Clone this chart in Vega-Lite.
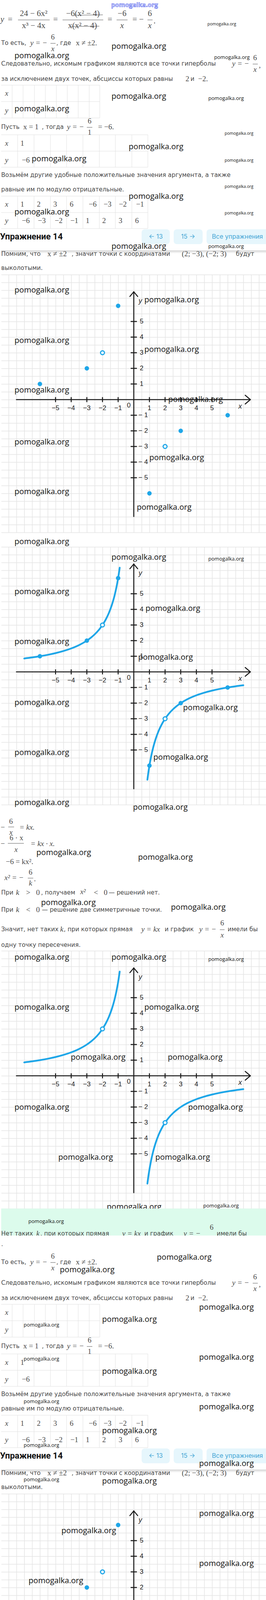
{
"$schema":"https://vega.github.io/schema/vega-lite/v6.json",
"padding":0,
"background":"white",
"spacing":0,
"bounds":"flush",
"config":{"view":{"stroke":null},"axis":{"minExtent":0}},
"datasets":{
"axesSeg":[{"x":-7.5,"y":0,"x2":7.45,"y2":0},{"x":0,"y":-7.48,"x2":0,"y2":6.9},{"x":7.12,"y":0.28,"x2":7.45,"y2":0},{"x":7.12,"y":-0.28,"x2":7.45,"y2":0},{"x":-0.25,"y":6.6,"x2":0,"y2":6.9},{"x":0.25,"y":6.6,"x2":0,"y2":6.9}],
"tickSeg":[{"x":-5,"y":-0.16,"x2":-5,"y2":0.16},{"x":-4,"y":-0.16,"x2":-4,"y2":0.16},{"x":-3,"y":-0.16,"x2":-3,"y2":0.16},{"x":-2,"y":-0.16,"x2":-2,"y2":0.16},{"x":-1,"y":-0.16,"x2":-1,"y2":0.16},{"x":1,"y":-0.16,"x2":1,"y2":0.16},{"x":2,"y":-0.16,"x2":2,"y2":0.16},{"x":3,"y":-0.16,"x2":3,"y2":0.16},{"x":4,"y":-0.16,"x2":4,"y2":0.16},{"x":5,"y":-0.16,"x2":5,"y2":0.16},
{"x":-0.2,"y":-5,"x2":0.2,"y2":-5},{"x":-0.2,"y":-4,"x2":0.2,"y2":-4},{"x":-0.2,"y":-3,"x2":0.2,"y2":-3},{"x":-0.2,"y":-2,"x2":0.2,"y2":-2},{"x":-0.2,"y":-1,"x2":0.2,"y2":-1},{"x":-0.2,"y":1,"x2":0.2,"y2":1},{"x":-0.2,"y":2,"x2":0.2,"y2":2},{"x":-0.2,"y":3,"x2":0.2,"y2":3},{"x":-0.2,"y":4,"x2":0.2,"y2":4},{"x":-0.2,"y":5,"x2":0.2,"y2":5}],
"xLab":[{"t":"−5","x":-5,"y":-0.55},{"t":"−4","x":-4,"y":-0.55},{"t":"−3","x":-3,"y":-0.55},{"t":"−2","x":-2,"y":-0.55},{"t":"−1","x":-1,"y":-0.55},{"t":"1","x":1,"y":-0.55},{"t":"2","x":2,"y":-0.55},{"t":"3","x":3,"y":-0.55},{"t":"4","x":4,"y":-0.55},{"t":"5","x":5,"y":-0.55},{"t":"0","x":-0.32,"y":-0.37}],
"yLab":[{"t":"5","x":0.38,"y":5},{"t":"4","x":0.38,"y":4},{"t":"3","x":0.38,"y":3},{"t":"2","x":0.38,"y":2},{"t":"1","x":0.38,"y":1},{"t":"− 1","x":0.3,"y":-1},{"t":"− 2","x":0.3,"y":-2},{"t":"− 3","x":0.3,"y":-3},{"t":"− 4","x":0.3,"y":-4},{"t":"− 5","x":0.3,"y":-5}],
"axName":[{"t":"x","x":6.8,"y":-0.45},{"t":"y","x":0.42,"y":6.3}],
"curve":[{"b":"L","x":-7,"y":0.857},{"b":"L","x":-6.5,"y":0.923},{"b":"L","x":-6,"y":1},{"b":"L","x":-5.5,"y":1.091},{"b":"L","x":-5,"y":1.2},{"b":"L","x":-4.5,"y":1.333},{"b":"L","x":-4,"y":1.5},{"b":"L","x":-3.5,"y":1.714},{"b":"L","x":-3,"y":2},{"b":"L","x":-2.75,"y":2.182},{"b":"L","x":-2.5,"y":2.4},{"b":"L","x":-2.25,"y":2.667},{"b":"L","x":-2,"y":3},{"b":"L","x":-1.8,"y":3.333},{"b":"L","x":-1.6,"y":3.75},{"b":"L","x":-1.4,"y":4.286},{"b":"L","x":-1.25,"y":4.8},{"b":"L","x":-1.1,"y":5.455},{"b":"L","x":-1,"y":6},{"b":"L","x":-0.9,"y":6.667},
{"b":"R","x":0.87,"y":-6.9},{"b":"R","x":0.95,"y":-6.316},{"b":"R","x":1,"y":-6},{"b":"R","x":1.1,"y":-5.455},{"b":"R","x":1.25,"y":-4.8},{"b":"R","x":1.4,"y":-4.286},{"b":"R","x":1.6,"y":-3.75},{"b":"R","x":1.8,"y":-3.333},{"b":"R","x":2,"y":-3},{"b":"R","x":2.25,"y":-2.667},{"b":"R","x":2.5,"y":-2.4},{"b":"R","x":2.75,"y":-2.182},{"b":"R","x":3,"y":-2},{"b":"R","x":3.5,"y":-1.714},{"b":"R","x":4,"y":-1.5},{"b":"R","x":4.5,"y":-1.333},{"b":"R","x":5,"y":-1.2},{"b":"R","x":5.5,"y":-1.091},{"b":"R","x":6,"y":-1},{"b":"R","x":6.5,"y":-0.923},{"b":"R","x":7,"y":-0.857}],
"ptsF":[{"x":-6,"y":1},{"x":-3,"y":2},{"x":-1,"y":6},{"x":1,"y":-6},{"x":3,"y":-2},{"x":6,"y":-1}],
"ptsO":[{"x":-2,"y":3},{"x":2,"y":-3}],
"tA_body":[{"t":"То есть,","x":0,"y":110},{"t":", где","x":141,"y":110},{"t":"Следовательно, искомым графиком являются все точки гиперболы","x":0,"y":163},{"t":"за исключением двух точек, абсциссы которых равны","x":0,"y":202},{"t":"и","x":484,"y":202},{"t":"Пусть","x":0,"y":325},{"t":", тогда","x":104,"y":325},{"t":"Возьмём другие удобные положительные значения аргумента, а также","x":0,"y":448},{"t":"равные им по модулю отрицательные.","x":0,"y":485},{"t":"Помним, что","x":0,"y":650},{"t":", значит точки с координатами","x":180,"y":650},{"t":"будут","x":600,"y":650},{"t":"выколотыми.","x":0,"y":686}],
"tA_mI":[{"t":"y = −","x":96,"y":110},{"t":"x","x":132,"y":125},{"t":"y = −","x":612,"y":163},{"t":"x","x":649,"y":178},{"t":"x","x":14,"y":239},{"t":"y","x":14,"y":283},{"t":"y = −","x":190,"y":325},{"t":"x","x":14,"y":367},{"t":"y","x":14,"y":410},{"t":"x","x":14,"y":523},{"t":"y","x":14,"y":565}],
"tA_mR":[{"t":"6","x":132,"y":95},{"t":"x ≠ ±2.","x":218,"y":110},{"t":"6","x":649,"y":148},{"t":",","x":661,"y":167},{"t":"2","x":476,"y":202},{"t":"−2.","x":516,"y":202},{"t":"x = 1","x":76,"y":325},{"t":"6","x":226,"y":310},{"t":"1","x":226,"y":339},{"t":"= −6.","x":268,"y":325},{"t":"1","x":54,"y":367},{"t":"−6","x":63,"y":410},
{"t":"1","x":54,"y":523},{"t":"2","x":96,"y":523},{"t":"3","x":138,"y":523},{"t":"6","x":180,"y":523},{"t":"−6","x":234,"y":523},{"t":"−3","x":272,"y":523},{"t":"−2","x":311,"y":523},{"t":"−1","x":355,"y":523},
{"t":"−6","x":63,"y":565},{"t":"−3","x":104,"y":565},{"t":"−2","x":147,"y":565},{"t":"−1","x":187,"y":565},{"t":"1","x":221,"y":565},{"t":"2","x":263,"y":565},{"t":"3","x":305,"y":565},{"t":"6","x":347,"y":565},
{"t":"x ≠ ±2","x":143,"y":650},{"t":"(2; −3), (−2; 3)","x":519,"y":650}],
"tA_bars":[{"x":126,"x2":139,"y":111,"y2":111},{"x":643,"x2":656,"y":164,"y2":164},{"x":219,"x2":233,"y":326,"y2":326}],
"tA_lines":[{"x":0,"x2":252,"y":218,"y2":218},{"x":0,"x2":252,"y":260,"y2":260},{"x":0,"x2":252,"y":302,"y2":302},
{"x":28,"x2":28,"y":218,"y2":302},{"x":56,"x2":56,"y":218,"y2":302},{"x":85,"x2":85,"y":218,"y2":302},{"x":113,"x2":113,"y":218,"y2":302},{"x":141,"x2":141,"y":218,"y2":302},{"x":169,"x2":169,"y":218,"y2":302},{"x":197,"x2":197,"y":218,"y2":302},{"x":225,"x2":225,"y":218,"y2":302},{"x":252,"x2":252,"y":218,"y2":302},
{"x":0,"x2":375,"y":345,"y2":345},{"x":0,"x2":375,"y":387,"y2":387},{"x":0,"x2":375,"y":428,"y2":428},
{"x":42,"x2":42,"y":345,"y2":428},{"x":84,"x2":84,"y":345,"y2":428},{"x":126,"x2":126,"y":345,"y2":428},{"x":167,"x2":167,"y":345,"y2":428},{"x":209,"x2":209,"y":345,"y2":428},{"x":251,"x2":251,"y":345,"y2":428},{"x":292,"x2":292,"y":345,"y2":428},{"x":334,"x2":334,"y":345,"y2":428},{"x":375,"x2":375,"y":345,"y2":428},
{"x":0,"x2":375,"y":502,"y2":502},{"x":0,"x2":375,"y":544,"y2":544},{"x":0,"x2":375,"y":585,"y2":585},
{"x":42,"x2":42,"y":502,"y2":585},{"x":84,"x2":84,"y":502,"y2":585},{"x":126,"x2":126,"y":502,"y2":585},{"x":167,"x2":167,"y":502,"y2":585},{"x":209,"x2":209,"y":502,"y2":585},{"x":251,"x2":251,"y":502,"y2":585},{"x":292,"x2":292,"y":502,"y2":585},{"x":334,"x2":334,"y":502,"y2":585},{"x":375,"x2":375,"y":502,"y2":585}],
"tA_head":[{"t":"Упражнение 14","x":-3,"y":606}],
"tA_btn":[{"x":359,"x2":431,"y":587,"y2":625},{"x":441,"x2":515,"y":587,"y2":625},{"x":525,"x2":692,"y":587,"y2":625}],
"tA_btnT":[{"t":"← 13","x":395,"y":606},{"t":"15 →","x":478,"y":606},{"t":"Все упражнения","x":604,"y":606}],
"tA_shadow":[{"x":0,"x2":680,"y":641,"y2":649}],
"f_R":[{"t":"=","x":23,"y":50},{"t":"24 − 6x²","x":83,"y":35},{"t":"x³ − 4x","x":83,"y":66},{"t":"=","x":139,"y":50},{"t":"−6(x² − 4)","x":209,"y":35},{"t":"x(x² − 4)","x":208,"y":66},{"t":"=","x":278,"y":50},{"t":"−6","x":309,"y":35},{"t":"= −","x":350,"y":50},{"t":"6","x":380,"y":35},{"t":".","x":392,"y":54}],
"f_I":[{"t":"y","x":3,"y":50},{"t":"x","x":309,"y":66},{"t":"x","x":380,"y":66}],
"f_bars":[{"x":43,"x2":124,"y":51,"y2":51},{"x":157,"x2":261,"y":51,"y2":51},{"x":295,"x2":323,"y":51,"y2":51},{"x":374,"x2":387,"y":51,"y2":51},{"x":186,"x2":260,"y":39,"y2":38},{"x":178,"x2":251,"y":68,"y2":67}],
"tC_body":[{"t":"При","x":0,"y":2285},{"t":", получаем","x":102,"y":2285},{"t":"— решений нет.","x":275,"y":2285},{"t":"При","x":0,"y":2329},{"t":"— решение две симметричные точки.","x":104,"y":2329}],
"tC_mI":[{"t":"x","x":25,"y":2131},{"t":"= kx.","x":66,"y":2118},{"t":"x","x":38,"y":2175},{"t":"= kx · x.","x":106,"y":2160},{"t":"x² = −","x":33,"y":2247},{"t":"k","x":75,"y":2261},{"t":"k","x":42,"y":2285},{"t":"x²","x":209,"y":2283},{"t":"k","x":42,"y":2329}],
"tC_mR":[{"t":"−","x":4,"y":2118},{"t":"6","x":25,"y":2103},{"t":"−","x":4,"y":2160},{"t":"6 · x","x":39,"y":2145},{"t":"−6 = kx².","x":47,"y":2206},{"t":"6","x":75,"y":2233},{"t":".","x":86,"y":2250},{"t":">","x":69,"y":2285},{"t":"0","x":94,"y":2285},{"t":"<","x":242,"y":2285},{"t":"0","x":267,"y":2285},{"t":"<","x":69,"y":2329},{"t":"0","x":94,"y":2329}],
"tC_bars":[{"x":18,"x2":33,"y":2117,"y2":2117},{"x":17,"x2":58,"y":2159,"y2":2159},{"x":68,"x2":82,"y":2248,"y2":2248}]
},
"vconcat":[
{"width":680,"height":703,
"encoding":{"x":{"field":"x","type":"quantitative","scale":{"domain":[0,680],"nice":false,"zero":false},"axis":null},"y":{"field":"y","type":"quantitative","scale":{"domain":[0,703],"nice":false,"zero":false,"reverse":true},"axis":null}},
"layer":[
{"data":{"name":"tA_lines"},"mark":{"type":"rule","color":"#e0e0e0","strokeWidth":1},"encoding":{"x2":{"field":"x2"},"y2":{"field":"y2"}}},
{"data":{"name":"tA_shadow"},"mark":{"type":"rect","fill":{"gradient":"linear","x1":0,"y1":0,"x2":0,"y2":1,"stops":[{"offset":0,"color":"#d4d4d4"},{"offset":1,"color":"#ffffff"}]}},"encoding":{"x2":{"field":"x2"},"y2":{"field":"y2"}}},
{"data":{"name":"tA_btn"},"mark":{"type":"rect","color":"#e6f6fc","cornerRadius":8},"encoding":{"x2":{"field":"x2"},"y2":{"field":"y2"}}},
{"data":{"name":"tA_btnT"},"mark":{"type":"text","font":"Inter","fontSize":16,"color":"#42a5d5","align":"center","baseline":"middle"},"encoding":{"text":{"field":"t"}}},
{"data":{"name":"tA_head"},"mark":{"type":"text","font":"Roboto","fontWeight":"bold","fontSize":22,"color":"#111111","align":"left","baseline":"middle"},"encoding":{"text":{"field":"t"}}},
{"data":{"name":"tA_bars"},"mark":{"type":"rule","color":"#555555","strokeWidth":1},"encoding":{"x2":{"field":"x2"},"y2":{"field":"y2"}}},
{"data":{"name":"tA_body"},"mark":{"type":"text","font":"DejaVu Sans","fontSize":15.3,"color":"#474747","align":"left","baseline":"middle"},"encoding":{"text":{"field":"t"}}},
{"data":{"name":"tA_mR"},"mark":{"type":"text","font":"Liberation Serif","fontSize":19,"color":"#4a4a4a","align":"center","baseline":"middle"},"encoding":{"text":{"field":"t"}}},
{"data":{"name":"tA_mI"},"mark":{"type":"text","font":"Liberation Serif","fontStyle":"italic","fontSize":19,"color":"#4a4a4a","align":"center","baseline":"middle"},"encoding":{"text":{"field":"t"}}},
{"data":{"name":"f_bars"},"mark":{"type":"rule","color":"#555555","strokeWidth":1},"encoding":{"x2":{"field":"x2"},"y2":{"field":"y2"}}},
{"data":{"name":"f_R"},"mark":{"type":"text","font":"Liberation Serif","fontSize":21,"color":"#4a4a4a","align":"center","baseline":"middle"},"encoding":{"text":{"field":"t"}}},
{"data":{"name":"f_I"},"mark":{"type":"text","font":"Liberation Serif","fontStyle":"italic","fontSize":21,"color":"#4a4a4a","align":"center","baseline":"middle"},"encoding":{"text":{"field":"t"}}},
{"data":{"values":[{"x":341,"y":13}]},"mark":{"type":"text","text":"pomogalka.org","font":"Open Sans","fontWeight":"bold","fontSize":16,"fill":"#dfe4ff","stroke":"#2f3fe8","strokeWidth":0.7,"align":"center","baseline":"middle"}},
{"data":{"values":[{"k":"S","x":564,"y":62},{"k":"L","x":352,"y":119},{"k":"L","x":104,"y":143},{"k":"M","x":590,"y":147},{"k":"L","x":352,"y":247},{"k":"M","x":575,"y":252},{"k":"L","x":104,"y":279},{"k":"S","x":608,"y":342},{"k":"L","x":396,"y":376},{"k":"L","x":148,"y":407},{"k":"S","x":608,"y":411},{"k":"S","x":608,"y":478},{"k":"L","x":396,"y":503},{"k":"L","x":104,"y":543},{"k":"S","x":608,"y":546},{"k":"L","x":352,"y":631},{"k":"M","x":575,"y":631}]},"mark":{"type":"text","text":"pomogalka.org","font":"Open Sans","color":"#111111","align":"center","baseline":"middle"},"encoding":{"size":{"field":"k","type":"nominal","scale":{"type":"ordinal","domain":["L","M","S"],"range":[20,13,10.5]},"legend":null}}}
]},
{"width":680,"height":660,
"encoding":{"x":{"field":"x","type":"quantitative","scale":{"domain":[-8.475,8.525],"nice":false,"zero":false},"axis":{"values":[-8.5,-8,-7.5,-7,-6.5,-6,-5.5,-5,-4.5,-4,-3.5,-3,-2.5,-2,-1.5,-1,-0.5,0,0.5,1,1.5,2,2.5,3,3.5,4,4.5,5,5.5,6,6.5,7,7.5,8,8.5],"grid":true,"gridColor":"#e4e4e4","gridWidth":1.5,"labels":false,"ticks":false,"domain":false,"title":null}},"y":{"field":"y","type":"quantitative","scale":{"domain":[-8.5,8],"nice":false,"zero":false},"axis":{"values":[-8.5,-8,-7.5,-7,-6.5,-6,-5.5,-5,-4.5,-4,-3.5,-3,-2.5,-2,-1.5,-1,-0.5,0,0.5,1,1.5,2,2.5,3,3.5,4,4.5,5,5.5,6,6.5,7,7.5,8],"grid":true,"gridColor":"#e4e4e4","gridWidth":1.5,"labels":false,"ticks":false,"domain":false,"title":null}}},
"layer":[
{"data":{"name":"axesSeg"},"mark":{"type":"rule","color":"#1b1b1b","strokeWidth":2.6,"strokeCap":"round"},"encoding":{"x2":{"field":"x2"},"y2":{"field":"y2"}}},
{"data":{"name":"tickSeg"},"mark":{"type":"rule","color":"#1b1b1b","strokeWidth":2.6},"encoding":{"x2":{"field":"x2"},"y2":{"field":"y2"}}},
{"data":{"name":"xLab"},"mark":{"type":"text","font":"Liberation Sans","fontSize":17,"color":"#222222","align":"center","baseline":"middle"},"encoding":{"text":{"field":"t"}}},
{"data":{"name":"yLab"},"mark":{"type":"text","font":"Liberation Sans","fontSize":17,"color":"#222222","align":"left","baseline":"middle"},"encoding":{"text":{"field":"t"}}},
{"data":{"name":"axName"},"mark":{"type":"text","font":"Liberation Sans","fontStyle":"italic","fontSize":18,"color":"#222222","align":"center","baseline":"middle"},"encoding":{"text":{"field":"t"}}},
{"data":{"name":"ptsF"},"mark":{"type":"point","shape":"circle","filled":true,"color":"#1ea6e8","size":130,"opacity":1}},
{"data":{"name":"ptsO"},"mark":{"type":"point","shape":"circle","filled":true,"fill":"#ffffff","stroke":"#1ea6e8","strokeWidth":3,"size":100,"opacity":1}},
{"data":{"values":[{"k":"L","x":-5.875,"y":7.0},{"k":"L","x":2.42,"y":6.375},{"k":"L","x":-5.875,"y":3.775},{"k":"L","x":2.42,"y":3.2},{"k":"L","x":-5.875,"y":0.6},{"k":"L","x":3.95,"y":0},{"k":"L","x":-5.875,"y":-2.725},{"k":"L","x":2.74,"y":-3.725},{"k":"L","x":-5.875,"y":-5.9},{"k":"L","x":1.94,"y":-6.9}]},"mark":{"type":"text","text":"pomogalka.org","font":"Open Sans","color":"#111111","align":"center","baseline":"middle"},"encoding":{"size":{"field":"k","type":"nominal","scale":{"type":"ordinal","domain":["L","M","S"],"range":[20,13,10.5]},"legend":null}}}
]},
{"width":680,"height":37,
"encoding":{"x":{"field":"x","type":"quantitative","scale":{"domain":[0,680],"nice":false,"zero":false},"axis":null},"y":{"field":"y","type":"quantitative","scale":{"domain":[0,37],"nice":false,"zero":false,"reverse":true},"axis":null}},
"layer":[
{"data":{"values":[{"k":"L","x":104,"y":24}]},"mark":{"type":"text","text":"pomogalka.org","font":"Open Sans","color":"#111111","align":"center","baseline":"middle"},"encoding":{"size":{"field":"k","type":"nominal","scale":{"type":"ordinal","domain":["L","M","S"],"range":[20,13,10.5]},"legend":null}}}
]},
{"width":680,"height":660,
"encoding":{"x":{"field":"x","type":"quantitative","scale":{"domain":[-8.475,8.525],"nice":false,"zero":false},"axis":{"values":[-8.5,-8,-7.5,-7,-6.5,-6,-5.5,-5,-4.5,-4,-3.5,-3,-2.5,-2,-1.5,-1,-0.5,0,0.5,1,1.5,2,2.5,3,3.5,4,4.5,5,5.5,6,6.5,7,7.5,8,8.5],"grid":true,"gridColor":"#e4e4e4","gridWidth":1.5,"labels":false,"ticks":false,"domain":false,"title":null}},"y":{"field":"y","type":"quantitative","scale":{"domain":[-8.5,8],"nice":false,"zero":false},"axis":{"values":[-8.5,-8,-7.5,-7,-6.5,-6,-5.5,-5,-4.5,-4,-3.5,-3,-2.5,-2,-1.5,-1,-0.5,0,0.5,1,1.5,2,2.5,3,3.5,4,4.5,5,5.5,6,6.5,7,7.5,8],"grid":true,"gridColor":"#e4e4e4","gridWidth":1.5,"labels":false,"ticks":false,"domain":false,"title":null}}},
"layer":[
{"data":{"name":"axesSeg"},"mark":{"type":"rule","color":"#1b1b1b","strokeWidth":2.6,"strokeCap":"round"},"encoding":{"x2":{"field":"x2"},"y2":{"field":"y2"}}},
{"data":{"name":"tickSeg"},"mark":{"type":"rule","color":"#1b1b1b","strokeWidth":2.6},"encoding":{"x2":{"field":"x2"},"y2":{"field":"y2"}}},
{"data":{"name":"xLab"},"mark":{"type":"text","font":"Liberation Sans","fontSize":17,"color":"#222222","align":"center","baseline":"middle"},"encoding":{"text":{"field":"t"}}},
{"data":{"name":"yLab"},"mark":{"type":"text","font":"Liberation Sans","fontSize":17,"color":"#222222","align":"left","baseline":"middle"},"encoding":{"text":{"field":"t"}}},
{"data":{"name":"axName"},"mark":{"type":"text","font":"Liberation Sans","fontStyle":"italic","fontSize":18,"color":"#222222","align":"center","baseline":"middle"},"encoding":{"text":{"field":"t"}}},
{"data":{"name":"curve"},"mark":{"type":"line","color":"#1ea6e8","strokeWidth":4.5,"interpolate":"monotone","strokeCap":"round"},"encoding":{"detail":{"field":"b","type":"nominal"}}},
{"data":{"name":"ptsF"},"mark":{"type":"point","shape":"circle","filled":true,"color":"#1ea6e8","size":130,"opacity":1}},
{"data":{"name":"ptsO"},"mark":{"type":"point","shape":"circle","filled":true,"fill":"#ffffff","stroke":"#1ea6e8","strokeWidth":3,"size":100,"opacity":1}},
{"data":{"values":[{"k":"L","x":0.325,"y":7.325},{"k":"M","x":5.9,"y":7.225},{"k":"L","x":-5.875,"y":5.125},{"k":"L","x":2.5,"y":4.05},{"k":"L","x":-5.875,"y":1.925},{"k":"L","x":2.03,"y":0.925},{"k":"L","x":-5.875,"y":-1.975},{"k":"L","x":4.9,"y":-2.3},{"k":"L","x":-5.875,"y":-5.175},{"k":"L","x":3.0,"y":-5.475},{"k":"L","x":-5.875,"y":-8.375}]},"mark":{"type":"text","text":"pomogalka.org","font":"Open Sans","color":"#111111","align":"center","baseline":"middle"},"encoding":{"size":{"field":"k","type":"nominal","scale":{"type":"ordinal","domain":["L","M","S"],"range":[20,13,10.5]},"legend":null}}}
]},
{"width":680,"height":374,
"encoding":{"x":{"field":"x","type":"quantitative","scale":{"domain":[0,680],"nice":false,"zero":false},"axis":null},"y":{"field":"y","type":"quantitative","scale":{"domain":[2060,2434],"nice":false,"zero":false,"reverse":true},"axis":null}},
"layer":[
{"data":{"name":"tC_bars"},"mark":{"type":"rule","color":"#555555","strokeWidth":1},"encoding":{"x2":{"field":"x2"},"y2":{"field":"y2"}}},
{"data":{"values":[{"x":559,"x2":571,"y":2380,"y2":2380}]},"mark":{"type":"rule","color":"#555555","strokeWidth":1},"encoding":{"x2":{"field":"x2"},"y2":{"field":"y2"}}},
{"data":{"name":"tC_body"},"mark":{"type":"text","font":"DejaVu Sans","fontSize":15.3,"color":"#474747","align":"left","baseline":"middle"},"encoding":{"text":{"field":"t"}}},
{"data":{"values":[{"t":"Значит, нет таких","x":0,"y":2379},{"t":", при которых прямая","x":160,"y":2379},{"t":"и график","x":418,"y":2379},{"t":"имели бы","x":579,"y":2379},{"t":"одну точку пересечения.","x":0,"y":2419}]},"mark":{"type":"text","font":"DejaVu Sans","fontSize":15.3,"color":"#474747","align":"left","baseline":"middle"},"encoding":{"text":{"field":"t"}}},
{"data":{"name":"tC_mR"},"mark":{"type":"text","font":"Liberation Serif","fontSize":19,"color":"#4a4a4a","align":"center","baseline":"middle"},"encoding":{"text":{"field":"t"}}},
{"data":{"values":[{"t":"6","x":565,"y":2363}]},"mark":{"type":"text","font":"Liberation Serif","fontSize":19,"color":"#4a4a4a","align":"center","baseline":"middle"},"encoding":{"text":{"field":"t"}}},
{"data":{"name":"tC_mI"},"mark":{"type":"text","font":"Liberation Serif","fontStyle":"italic","fontSize":19,"color":"#4a4a4a","align":"center","baseline":"middle"},"encoding":{"text":{"field":"t"}}},
{"data":{"values":[{"t":"k","x":155,"y":2379},{"t":"y = kx","x":382,"y":2379},{"t":"y = −","x":528,"y":2379},{"t":"x","x":565,"y":2394}]},"mark":{"type":"text","font":"Liberation Serif","fontStyle":"italic","fontSize":19,"color":"#4a4a4a","align":"center","baseline":"middle"},"encoding":{"text":{"field":"t"}}},
{"data":{"values":[{"k":"L","x":407,"y":2067},{"k":"L","x":160,"y":2183},{"k":"L","x":420,"y":2195},{"k":"L","x":172,"y":2311},{"k":"L","x":504,"y":2323}]},"mark":{"type":"text","text":"pomogalka.org","font":"Open Sans","color":"#111111","align":"center","baseline":"middle"},"encoding":{"size":{"field":"k","type":"nominal","scale":{"type":"ordinal","domain":["L","M","S"],"range":[20,13,10.5]},"legend":null}}}
]},
{"width":680,"height":660,
"encoding":{"x":{"field":"x","type":"quantitative","scale":{"domain":[-8.475,8.525],"nice":false,"zero":false},"axis":{"values":[-8.5,-8,-7.5,-7,-6.5,-6,-5.5,-5,-4.5,-4,-3.5,-3,-2.5,-2,-1.5,-1,-0.5,0,0.5,1,1.5,2,2.5,3,3.5,4,4.5,5,5.5,6,6.5,7,7.5,8,8.5],"grid":true,"gridColor":"#e4e4e4","gridWidth":1.5,"labels":false,"ticks":false,"domain":false,"title":null}},"y":{"field":"y","type":"quantitative","scale":{"domain":[-8.5,8],"nice":false,"zero":false},"axis":{"values":[-8.5,-8,-7.5,-7,-6.5,-6,-5.5,-5,-4.5,-4,-3.5,-3,-2.5,-2,-1.5,-1,-0.5,0,0.5,1,1.5,2,2.5,3,3.5,4,4.5,5,5.5,6,6.5,7,7.5,8],"grid":true,"gridColor":"#e4e4e4","gridWidth":1.5,"labels":false,"ticks":false,"domain":false,"title":null}}},
"layer":[
{"data":{"name":"axesSeg"},"mark":{"type":"rule","color":"#1b1b1b","strokeWidth":2.6,"strokeCap":"round"},"encoding":{"x2":{"field":"x2"},"y2":{"field":"y2"}}},
{"data":{"name":"tickSeg"},"mark":{"type":"rule","color":"#1b1b1b","strokeWidth":2.6},"encoding":{"x2":{"field":"x2"},"y2":{"field":"y2"}}},
{"data":{"name":"xLab"},"mark":{"type":"text","font":"Liberation Sans","fontSize":17,"color":"#222222","align":"center","baseline":"middle"},"encoding":{"text":{"field":"t"}}},
{"data":{"name":"yLab"},"mark":{"type":"text","font":"Liberation Sans","fontSize":17,"color":"#222222","align":"left","baseline":"middle"},"encoding":{"text":{"field":"t"}}},
{"data":{"name":"axName"},"mark":{"type":"text","font":"Liberation Sans","fontStyle":"italic","fontSize":18,"color":"#222222","align":"center","baseline":"middle"},"encoding":{"text":{"field":"t"}}},
{"data":{"name":"curve"},"mark":{"type":"line","color":"#1ea6e8","strokeWidth":4.5,"interpolate":"monotone","strokeCap":"round"},"encoding":{"detail":{"field":"b","type":"nominal"}}},
{"data":{"name":"ptsO"},"mark":{"type":"point","shape":"circle","filled":true,"fill":"#ffffff","stroke":"#1ea6e8","strokeWidth":3,"size":100,"opacity":1}},
{"data":{"values":[{"k":"L","x":-5.875,"y":7.575},{"k":"L","x":0.325,"y":7.575},{"k":"M","x":5.9,"y":7.45},{"k":"L","x":-5.875,"y":4.375},{"k":"L","x":2.42,"y":4.375},{"k":"L","x":-2.275,"y":1.175},{"k":"L","x":3.925,"y":1.175},{"k":"L","x":-5.875,"y":-2.025},{"k":"L","x":5.225,"y":-2.025},{"k":"L","x":-3.075,"y":-5.225},{"k":"L","x":3.125,"y":-5.225},{"k":"L","x":0.025,"y":-8.4},{"k":"M","x":5.575,"y":-8.325}]},"mark":{"type":"text","text":"pomogalka.org","font":"Open Sans","color":"#111111","align":"center","baseline":"middle"},"encoding":{"size":{"field":"k","type":"nominal","scale":{"type":"ordinal","domain":["L","M","S"],"range":[20,13,10.5]},"legend":null}}}
]},
{"width":680,"height":69,"view":{"fill":"#dcfbec"},
"encoding":{"x":{"field":"x","type":"quantitative","scale":{"domain":[0,680],"nice":false,"zero":false},"axis":null},"y":{"field":"y","type":"quantitative","scale":{"domain":[0,69],"nice":false,"zero":false,"reverse":true},"axis":null}},
"layer":[
{"data":{"values":[{"t":"Нет таких","x":0,"y":64},{"t":", при которых прямая","x":100,"y":64},{"t":"и график","x":366,"y":64},{"t":"имели бы","x":551,"y":64}]},"mark":{"type":"text","clip":true,"font":"DejaVu Sans","fontSize":15.3,"color":"#474747","align":"left","baseline":"middle"},"encoding":{"text":{"field":"t"}}},
{"data":{"values":[{"t":"k","x":94,"y":64},{"t":"y = kx","x":333,"y":64},{"t":"y = −","x":488,"y":64}]},"mark":{"type":"text","clip":true,"font":"Liberation Serif","fontStyle":"italic","fontSize":19,"color":"#4a4a4a","align":"center","baseline":"middle"},"encoding":{"text":{"field":"t"}}},
{"data":{"values":[{"t":"6","x":538,"y":48}]},"mark":{"type":"text","clip":true,"font":"Liberation Serif","fontSize":19,"color":"#4a4a4a","align":"center","baseline":"middle"},"encoding":{"text":{"field":"t"}}},
{"data":{"values":[{"k":"M","x":115,"y":33}]},"mark":{"type":"text","text":"pomogalka.org","font":"Open Sans","color":"#111111","align":"center","baseline":"middle"},"encoding":{"size":{"field":"k","type":"nominal","scale":{"type":"ordinal","domain":["L","M","S"],"range":[20,13,10.5]},"legend":null}}}
]},
{"width":680,"height":661,
"encoding":{"x":{"field":"x","type":"quantitative","scale":{"domain":[0,680],"nice":false,"zero":false},"axis":null},"y":{"field":"y","type":"quantitative","scale":{"domain":[42,703],"nice":false,"zero":false,"reverse":true},"axis":null}},
"layer":[
{"data":{"name":"tA_lines"},"mark":{"type":"rule","color":"#e0e0e0","strokeWidth":1},"encoding":{"x2":{"field":"x2"},"y2":{"field":"y2"}}},
{"data":{"name":"tA_shadow"},"mark":{"type":"rect","fill":{"gradient":"linear","x1":0,"y1":0,"x2":0,"y2":1,"stops":[{"offset":0,"color":"#d4d4d4"},{"offset":1,"color":"#ffffff"}]}},"encoding":{"x2":{"field":"x2"},"y2":{"field":"y2"}}},
{"data":{"name":"tA_btn"},"mark":{"type":"rect","color":"#e6f6fc","cornerRadius":8},"encoding":{"x2":{"field":"x2"},"y2":{"field":"y2"}}},
{"data":{"name":"tA_btnT"},"mark":{"type":"text","font":"Inter","fontSize":16,"color":"#42a5d5","align":"center","baseline":"middle"},"encoding":{"text":{"field":"t"}}},
{"data":{"name":"tA_head"},"mark":{"type":"text","font":"Roboto","fontWeight":"bold","fontSize":22,"color":"#111111","align":"left","baseline":"middle"},"encoding":{"text":{"field":"t"}}},
{"data":{"name":"tA_bars"},"mark":{"type":"rule","color":"#555555","strokeWidth":1},"encoding":{"x2":{"field":"x2"},"y2":{"field":"y2"}}},
{"data":{"name":"tA_body"},"mark":{"type":"text","font":"DejaVu Sans","fontSize":15.3,"color":"#474747","align":"left","baseline":"middle"},"encoding":{"text":{"field":"t"}}},
{"data":{"values":[{"t":".","x":0,"y":64}]},"mark":{"type":"text","font":"DejaVu Sans","fontSize":15.3,"color":"#474747","align":"left","baseline":"middle"},"encoding":{"text":{"field":"t"}}},
{"data":{"name":"tA_mR"},"mark":{"type":"text","font":"Liberation Serif","fontSize":19,"color":"#4a4a4a","align":"center","baseline":"middle"},"encoding":{"text":{"field":"t"}}},
{"data":{"name":"tA_mI"},"mark":{"type":"text","font":"Liberation Serif","fontStyle":"italic","fontSize":19,"color":"#4a4a4a","align":"center","baseline":"middle"},"encoding":{"text":{"field":"t"}}},
{"data":{"values":[{"k":"L","x":468,"y":98},{"k":"L","x":220,"y":130},{"k":"L","x":576,"y":226},{"k":"L","x":328,"y":257},{"k":"M","x":103,"y":271},{"k":"L","x":576,"y":354},{"k":"M","x":103,"y":358},{"k":"L","x":328,"y":390},{"k":"M","x":103,"y":467},{"k":"L","x":576,"y":481},{"k":"L","x":328,"y":542},{"k":"M","x":103,"y":579},{"k":"L","x":576,"y":626},{"k":"M","x":103,"y":667},{"k":"L","x":328,"y":671}]},"mark":{"type":"text","text":"pomogalka.org","font":"Open Sans","color":"#111111","align":"center","baseline":"middle"},"encoding":{"size":{"field":"k","type":"nominal","scale":{"type":"ordinal","domain":["L","M","S"],"range":[20,13,10.5]},"legend":null}}}
]},
{"width":680,"height":660,
"encoding":{"x":{"field":"x","type":"quantitative","scale":{"domain":[-8.475,8.525],"nice":false,"zero":false},"axis":{"values":[-8.5,-8,-7.5,-7,-6.5,-6,-5.5,-5,-4.5,-4,-3.5,-3,-2.5,-2,-1.5,-1,-0.5,0,0.5,1,1.5,2,2.5,3,3.5,4,4.5,5,5.5,6,6.5,7,7.5,8,8.5],"grid":true,"gridColor":"#e4e4e4","gridWidth":1.5,"labels":false,"ticks":false,"domain":false,"title":null}},"y":{"field":"y","type":"quantitative","scale":{"domain":[-8.5,8],"nice":false,"zero":false},"axis":{"values":[-8.5,-8,-7.5,-7,-6.5,-6,-5.5,-5,-4.5,-4,-3.5,-3,-2.5,-2,-1.5,-1,-0.5,0,0.5,1,1.5,2,2.5,3,3.5,4,4.5,5,5.5,6,6.5,7,7.5,8],"grid":true,"gridColor":"#e4e4e4","gridWidth":1.5,"labels":false,"ticks":false,"domain":false,"title":null}}},
"layer":[
{"data":{"name":"axesSeg"},"mark":{"type":"rule","color":"#1b1b1b","strokeWidth":2.6,"strokeCap":"round"},"encoding":{"x2":{"field":"x2"},"y2":{"field":"y2"}}},
{"data":{"name":"tickSeg"},"mark":{"type":"rule","color":"#1b1b1b","strokeWidth":2.6},"encoding":{"x2":{"field":"x2"},"y2":{"field":"y2"}}},
{"data":{"name":"xLab"},"mark":{"type":"text","font":"Liberation Sans","fontSize":17,"color":"#222222","align":"center","baseline":"middle"},"encoding":{"text":{"field":"t"}}},
{"data":{"name":"yLab"},"mark":{"type":"text","font":"Liberation Sans","fontSize":17,"color":"#222222","align":"left","baseline":"middle"},"encoding":{"text":{"field":"t"}}},
{"data":{"name":"axName"},"mark":{"type":"text","font":"Liberation Sans","fontStyle":"italic","fontSize":18,"color":"#222222","align":"center","baseline":"middle"},"encoding":{"text":{"field":"t"}}},
{"data":{"name":"ptsF"},"mark":{"type":"point","shape":"circle","filled":true,"color":"#1ea6e8","size":130,"opacity":1}},
{"data":{"name":"ptsO"},"mark":{"type":"point","shape":"circle","filled":true,"fill":"#ffffff","stroke":"#1ea6e8","strokeWidth":3,"size":100,"opacity":1}},
{"data":{"values":[{"k":"L","x":5.925,"y":6.725},{"k":"L","x":-2.875,"y":5.625},{"k":"L","x":5.925,"y":3.525},{"k":"L","x":-4.975,"y":2.425},{"k":"L","x":5.225,"y":0.35},{"k":"L","x":-1.975,"y":-0.975},{"k":"L","x":5.925,"y":-2.875},{"k":"L","x":-1.975,"y":-4.175},{"k":"L","x":5.925,"y":-6.075},{"k":"L","x":-1.875,"y":-7.35}]},"mark":{"type":"text","text":"pomogalka.org","font":"Open Sans","color":"#111111","align":"center","baseline":"middle"},"encoding":{"size":{"field":"k","type":"nominal","scale":{"type":"ordinal","domain":["L","M","S"],"range":[20,13,10.5]},"legend":null}}}
]},
{"width":680,"height":36,
"encoding":{"x":{"field":"x","type":"quantitative","scale":{"domain":[0,680],"nice":false,"zero":false},"axis":null},"y":{"field":"y","type":"quantitative","scale":{"domain":[0,36],"nice":false,"zero":false,"reverse":true},"axis":null}},
"layer":[
{"data":{"values":[{"k":"L","x":576,"y":31}]},"mark":{"type":"text","text":"pomogalka.org","font":"Open Sans","color":"#111111","align":"center","baseline":"middle"},"encoding":{"size":{"field":"k","type":"nominal","scale":{"type":"ordinal","domain":["L","M","S"],"range":[20,13,10.5]},"legend":null}}}
]},
{"width":680,"height":660,
"encoding":{"x":{"field":"x","type":"quantitative","scale":{"domain":[-8.475,8.525],"nice":false,"zero":false},"axis":{"values":[-8.5,-8,-7.5,-7,-6.5,-6,-5.5,-5,-4.5,-4,-3.5,-3,-2.5,-2,-1.5,-1,-0.5,0,0.5,1,1.5,2,2.5,3,3.5,4,4.5,5,5.5,6,6.5,7,7.5,8,8.5],"grid":true,"gridColor":"#e4e4e4","gridWidth":1.5,"labels":false,"ticks":false,"domain":false,"title":null}},"y":{"field":"y","type":"quantitative","scale":{"domain":[-8.5,8],"nice":false,"zero":false},"axis":{"values":[-8.5,-8,-7.5,-7,-6.5,-6,-5.5,-5,-4.5,-4,-3.5,-3,-2.5,-2,-1.5,-1,-0.5,0,0.5,1,1.5,2,2.5,3,3.5,4,4.5,5,5.5,6,6.5,7,7.5,8],"grid":true,"gridColor":"#e4e4e4","gridWidth":1.5,"labels":false,"ticks":false,"domain":false,"title":null}}},
"layer":[
{"data":{"name":"axesSeg"},"mark":{"type":"rule","color":"#1b1b1b","strokeWidth":2.6,"strokeCap":"round"},"encoding":{"x2":{"field":"x2"},"y2":{"field":"y2"}}},
{"data":{"name":"tickSeg"},"mark":{"type":"rule","color":"#1b1b1b","strokeWidth":2.6},"encoding":{"x2":{"field":"x2"},"y2":{"field":"y2"}}},
{"data":{"name":"xLab"},"mark":{"type":"text","font":"Liberation Sans","fontSize":17,"color":"#222222","align":"center","baseline":"middle"},"encoding":{"text":{"field":"t"}}},
{"data":{"name":"yLab"},"mark":{"type":"text","font":"Liberation Sans","fontSize":17,"color":"#222222","align":"left","baseline":"middle"},"encoding":{"text":{"field":"t"}}},
{"data":{"name":"axName"},"mark":{"type":"text","font":"Liberation Sans","fontStyle":"italic","fontSize":18,"color":"#222222","align":"center","baseline":"middle"},"encoding":{"text":{"field":"t"}}},
{"data":{"name":"curve"},"mark":{"type":"line","color":"#1ea6e8","strokeWidth":4.5,"interpolate":"monotone","strokeCap":"round"},"encoding":{"detail":{"field":"b","type":"nominal"}}},
{"data":{"name":"ptsF"},"mark":{"type":"point","shape":"circle","filled":true,"color":"#1ea6e8","size":130,"opacity":1}},
{"data":{"name":"ptsO"},"mark":{"type":"point","shape":"circle","filled":true,"fill":"#ffffff","stroke":"#1ea6e8","strokeWidth":3,"size":100,"opacity":1}},
{"data":{"values":[{"k":"L","x":-2.775,"y":6.825},{"k":"L","x":5.925,"y":4.95},{"k":"L","x":-3.675,"y":3.625},{"k":"L","x":5.925,"y":1.725},{"k":"L","x":-1.975,"y":-0.975},{"k":"L","x":5.925,"y":-1.775},{"k":"L","x":-1.975,"y":-4.175},{"k":"L","x":5.925,"y":-4.975},{"k":"L","x":-1.875,"y":-7.35},{"k":"L","x":5.925,"y":-8.175}]},"mark":{"type":"text","text":"pomogalka.org","font":"Open Sans","color":"#111111","align":"center","baseline":"middle"},"encoding":{"size":{"field":"k","type":"nominal","scale":{"type":"ordinal","domain":["L","M","S"],"range":[20,13,10.5]},"legend":null}}}
]},
{"width":680,"height":332,
"encoding":{"x":{"field":"x","type":"quantitative","scale":{"domain":[0,680],"nice":false,"zero":false},"axis":null},"y":{"field":"y","type":"quantitative","scale":{"domain":[2060,2392],"nice":false,"zero":false,"reverse":true},"axis":null}},
"layer":[
{"data":{"name":"tC_bars"},"mark":{"type":"rule","color":"#555555","strokeWidth":1},"encoding":{"x2":{"field":"x2"},"y2":{"field":"y2"}}},
{"data":{"name":"tC_body"},"mark":{"type":"text","font":"DejaVu Sans","fontSize":15.3,"color":"#474747","align":"left","baseline":"middle"},"encoding":{"text":{"field":"t"}}},
{"data":{"values":[{"t":"Значит, прямая","x":0,"y":2375},{"t":"не имеет с графиком общих точек при","x":202,"y":2375}]},"mark":{"type":"text","font":"DejaVu Sans","fontSize":15.3,"color":"#474747","align":"left","baseline":"middle"},"encoding":{"text":{"field":"t"}}},
{"data":{"name":"tC_mR"},"mark":{"type":"text","font":"Liberation Serif","fontSize":19,"color":"#4a4a4a","align":"center","baseline":"middle"},"encoding":{"text":{"field":"t"}}},
{"data":{"values":[{"t":">","x":566,"y":2375},{"t":"0.","x":595,"y":2375}]},"mark":{"type":"text","font":"Liberation Serif","fontSize":19,"color":"#4a4a4a","align":"center","baseline":"middle"},"encoding":{"text":{"field":"t"}}},
{"data":{"name":"tC_mI"},"mark":{"type":"text","font":"Liberation Serif","fontStyle":"italic","fontSize":19,"color":"#4a4a4a","align":"center","baseline":"middle"},"encoding":{"text":{"field":"t"}}},
{"data":{"values":[{"t":"y = kx","x":165,"y":2375},{"t":"k","x":541,"y":2375}]},"mark":{"type":"text","font":"Liberation Serif","fontStyle":"italic","fontSize":19,"color":"#4a4a4a","align":"center","baseline":"middle"},"encoding":{"text":{"field":"t"}}},
{"data":{"values":[{"k":"L","x":328,"y":2143},{"k":"M","x":103,"y":2176},{"k":"L","x":576,"y":2176},{"k":"L","x":228,"y":2303},{"k":"L","x":576,"y":2303}]},"mark":{"type":"text","text":"pomogalka.org","font":"Open Sans","color":"#111111","align":"center","baseline":"middle"},"encoding":{"size":{"field":"k","type":"nominal","scale":{"type":"ordinal","domain":["L","M","S"],"range":[20,13,10.5]},"legend":null}}}
]},
{"width":680,"height":660,
"encoding":{"x":{"field":"x","type":"quantitative","scale":{"domain":[-8.475,8.525],"nice":false,"zero":false},"axis":{"values":[-8.5,-8,-7.5,-7,-6.5,-6,-5.5,-5,-4.5,-4,-3.5,-3,-2.5,-2,-1.5,-1,-0.5,0,0.5,1,1.5,2,2.5,3,3.5,4,4.5,5,5.5,6,6.5,7,7.5,8,8.5],"grid":true,"gridColor":"#e4e4e4","gridWidth":1.5,"labels":false,"ticks":false,"domain":false,"title":null}},"y":{"field":"y","type":"quantitative","scale":{"domain":[-8.5,8],"nice":false,"zero":false},"axis":{"values":[-8.5,-8,-7.5,-7,-6.5,-6,-5.5,-5,-4.5,-4,-3.5,-3,-2.5,-2,-1.5,-1,-0.5,0,0.5,1,1.5,2,2.5,3,3.5,4,4.5,5,5.5,6,6.5,7,7.5,8],"grid":true,"gridColor":"#e4e4e4","gridWidth":1.5,"labels":false,"ticks":false,"domain":false,"title":null}}},
"layer":[
{"data":{"name":"axesSeg"},"mark":{"type":"rule","color":"#1b1b1b","strokeWidth":2.6,"strokeCap":"round"},"encoding":{"x2":{"field":"x2"},"y2":{"field":"y2"}}},
{"data":{"name":"tickSeg"},"mark":{"type":"rule","color":"#1b1b1b","strokeWidth":2.6},"encoding":{"x2":{"field":"x2"},"y2":{"field":"y2"}}},
{"data":{"name":"xLab"},"mark":{"type":"text","font":"Liberation Sans","fontSize":17,"color":"#222222","align":"center","baseline":"middle"},"encoding":{"text":{"field":"t"}}},
{"data":{"name":"yLab"},"mark":{"type":"text","font":"Liberation Sans","fontSize":17,"color":"#222222","align":"left","baseline":"middle"},"encoding":{"text":{"field":"t"}}},
{"data":{"name":"axName"},"mark":{"type":"text","font":"Liberation Sans","fontStyle":"italic","fontSize":18,"color":"#222222","align":"center","baseline":"middle"},"encoding":{"text":{"field":"t"}}},
{"data":{"name":"curve"},"mark":{"type":"line","color":"#1ea6e8","strokeWidth":4.5,"interpolate":"monotone","strokeCap":"round"},"encoding":{"detail":{"field":"b","type":"nominal"}}},
{"data":{"name":"ptsO"},"mark":{"type":"point","shape":"circle","filled":true,"fill":"#ffffff","stroke":"#1ea6e8","strokeWidth":3,"size":100,"opacity":1}},
{"data":{"values":[{"k":"L","x":-2.775,"y":7.0},{"k":"L","x":5.925,"y":7.0},{"k":"L","x":-3.575,"y":3.825},{"k":"L","x":5.925,"y":3.825},{"k":"L","x":-1.875,"y":0.625},{"k":"L","x":5.325,"y":0.625},{"k":"L","x":-1.875,"y":-2.575},{"k":"L","x":5.925,"y":-2.575},{"k":"L","x":-1.875,"y":-5.775},{"k":"L","x":5.925,"y":-5.775}]},"mark":{"type":"text","text":"pomogalka.org","font":"Open Sans","color":"#111111","align":"center","baseline":"middle"},"encoding":{"size":{"field":"k","type":"nominal","scale":{"type":"ordinal","domain":["L","M","S"],"range":[20,13,10.5]},"legend":null}}}
]},
{"width":680,"height":25,"view":{"fill":"#dcfbec"},
"data":{"values":[{"t":""}]},
"mark":{"type":"text"},
"encoding":{"text":{"field":"t"}}}
]
}
